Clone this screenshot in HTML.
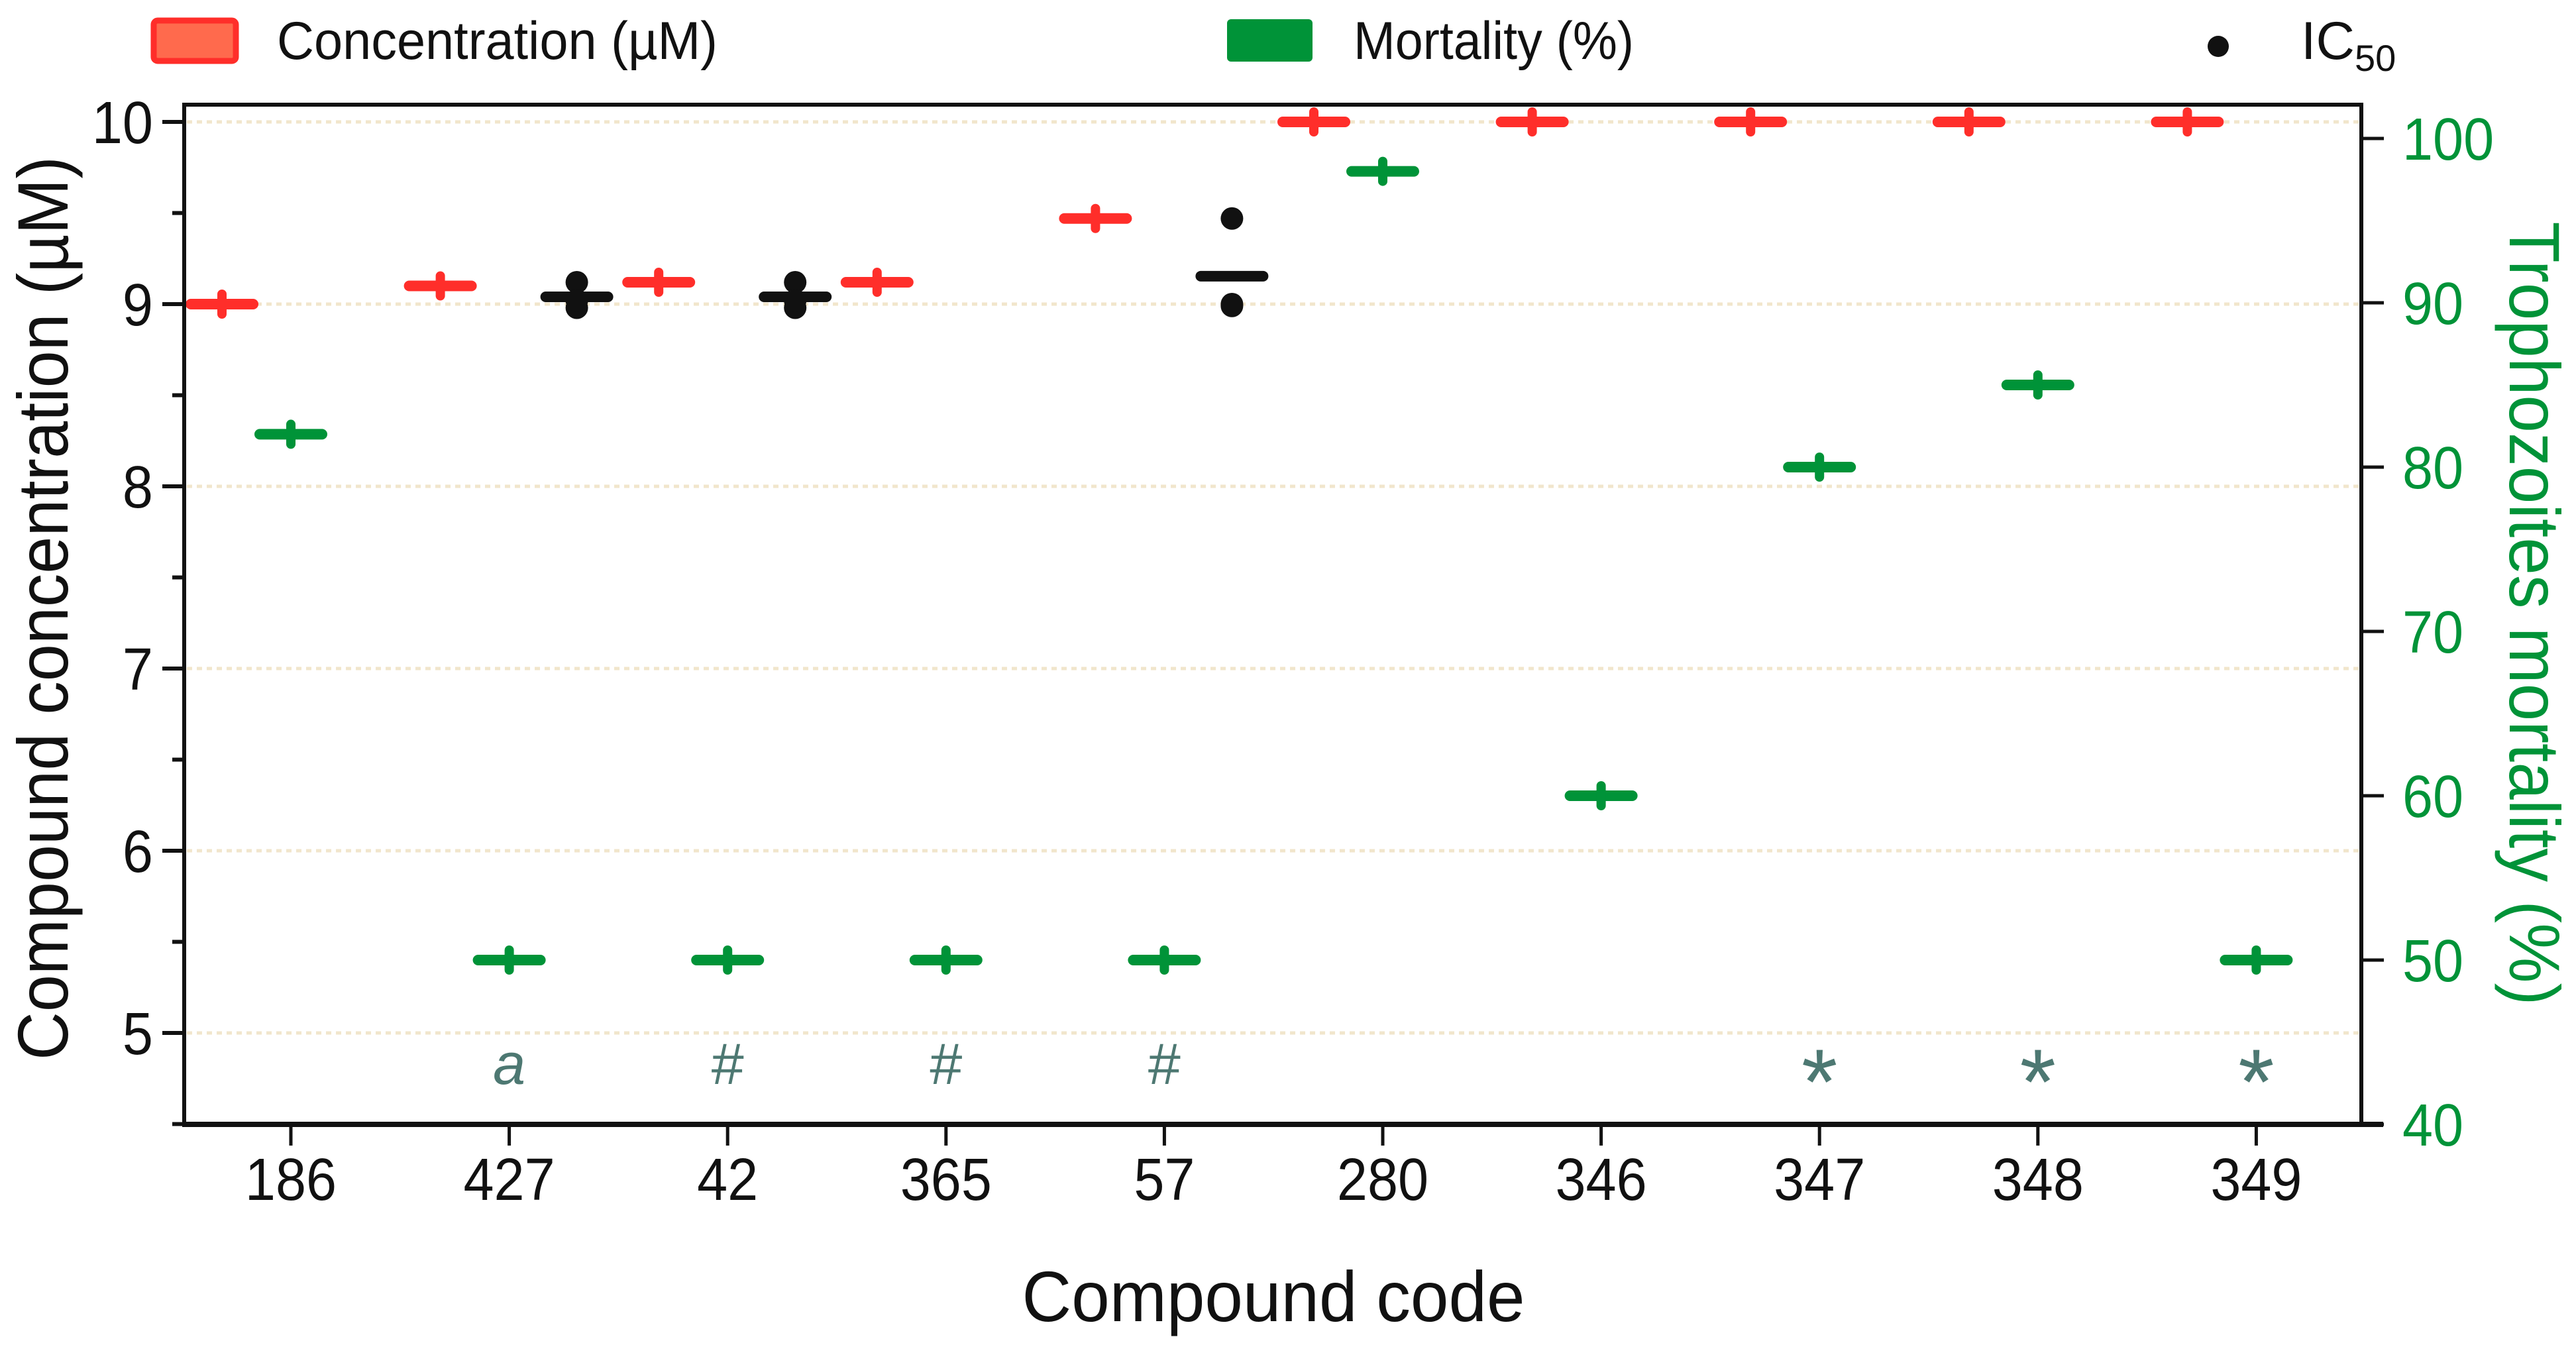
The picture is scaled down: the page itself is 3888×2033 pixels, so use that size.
<!DOCTYPE html>
<html><head><meta charset="utf-8"><style>
html,body{margin:0;padding:0;background:#fff;}
svg{display:block;}
text{font-family:"Liberation Sans",sans-serif;}
</style></head><body>
<svg id="chart" xmlns="http://www.w3.org/2000/svg" width="3888" height="2033" viewBox="0 0 3888 2033">
<rect x="0" y="0" width="3888" height="2033" fill="#fff"/>
<g id="grid"></g>
<g id="marks"></g>
<g id="axes"></g>
<g>
  <g>
    <rect x="232" y="31" width="124" height="61" rx="6" fill="#ff6a4d" stroke="#ff2e2a" stroke-width="9"/>
    <text x="418" y="89" font-size="81" textLength="665" lengthAdjust="spacingAndGlyphs" fill="#111">Concentration (µM)</text>
  </g>
  <g>
    <rect x="1852" y="29" width="129" height="64" rx="6" fill="#009338"/>
    <text x="2043" y="89" font-size="81" textLength="423" lengthAdjust="spacingAndGlyphs" fill="#111">Mortality (%)</text>
  </g>
  <g>
    <circle cx="3348" cy="70" r="16" fill="#111"/>
    <text x="3473" y="89" font-size="81" fill="#111">IC<tspan font-size="56" dy="18">50</tspan></text>
  </g>
</g>
<text transform="translate(102,918) rotate(-90)" text-anchor="middle" font-size="108" textLength="1364" lengthAdjust="spacingAndGlyphs" fill="#111">Compound concentration (µM)</text>
<text transform="translate(3788,926) rotate(90)" text-anchor="middle" font-size="108" textLength="1183" lengthAdjust="spacingAndGlyphs" fill="#009338">Trophozoites mortality (%)</text>
<text x="1922" y="1994" text-anchor="middle" font-size="108" textLength="759" lengthAdjust="spacingAndGlyphs" fill="#111">Compound code</text>
</svg>
<script>
const categories = ["186","427","42","365","57","280","346","347","348","349"];
const concentration = [9.0, 9.1, 9.12, 9.12, 9.47, 10, 10, 10, 10, 10];
const mortality = [82, 50, 50, 50, 50, 98, 60, 80, 85, 50];
const ic50Points = [[], [9.12, 8.98, 9.02], [9.12, 8.98, 9.02], [], [9.47, 9.0, 8.99], [], [], [], [], []];
const annotations = ["", "a", "#", "#", "#", "", "", "*", "*", "*"];
const leftTicks = [5, 6, 7, 8, 9, 10];
const leftMinor = [4.5, 5.5, 6.5, 7.5, 8.5, 9.5];
const rightTicks = [40, 50, 60, 70, 80, 90, 100];

const NS = "http://www.w3.org/2000/svg";
const L = 278, R = 3564, T = 158, B = 1697;
function yL(v){ return 184 + (10 - v) * 275; }
function yR(v){ return 1697 - (v - 40) * 24.8; }
function xC(i){ return 439 + i * 329.6; }
function mk(tag, attrs, parent){ const e = document.createElementNS(NS, tag); for (const k in attrs) e.setAttribute(k, attrs[k]); parent.appendChild(e); return e; }

const grid = document.getElementById('grid');
const marks = document.getElementById('marks');
const axes = document.getElementById('axes');

leftTicks.forEach(v => {
  const g = mk('line', {x1:L+4, x2:R-4, y1:yL(v), y2:yL(v), stroke:'#f1e6cc', 'stroke-width':5, 'stroke-dasharray':'8 7'}, grid);
  
  
});

function bar(cx, cy, color, name){
  const g = mk('g', {}, marks);
  
  
  mk('line', {x1:cx-47, x2:cx+47, y1:cy, y2:cy, stroke:color, 'stroke-width':16, 'stroke-linecap':'round'}, g);
  mk('line', {x1:cx, x2:cx, y1:cy-15, y2:cy+15, stroke:color, 'stroke-width':14, 'stroke-linecap':'round'}, g);
}

categories.forEach((c, i) => {
  const x = xC(i);
  bar(x - 104, yL(concentration[i]), '#ff2e2a', 'concentration-mark-' + c);
  bar(x, yR(mortality[i]), '#009338', 'mortality-mark-' + c);
  const pts = ic50Points[i];
  if (pts.length) {
    const g = mk('g', {}, marks);
    
    
    const mean = pts.reduce((a, b) => a + b, 0) / pts.length;
    pts.forEach(p => mk('circle', {cx:x + 102, cy:yL(p), r:17, fill:'#111'}, g));
    mk('line', {x1:x + 102 - 47, x2:x + 102 + 47, y1:yL(mean), y2:yL(mean), stroke:'#111', 'stroke-width':16, 'stroke-linecap':'round'}, g);
  }
  if (annotations[i]) {
    const a = annotations[i];
    const t = mk('text', {x:x, y: a === '*' ? 1681 : 1636, 'text-anchor':'middle', fill:'#4d7872',
      'font-size': a === '*' ? 140 : 88,
      'font-family': '"Liberation Serif",serif',
      'font-style': a === 'a' ? 'italic' : 'normal'}, marks);
    t.textContent = a;
    
    
  }
});

const frame = mk('path', {d:`M${L},${B} L${L},${T} L${R},${T} L${R},${B}`, fill:'none', stroke:'#111', 'stroke-width':6}, axes);


const xaxis = mk('line', {x1:L-3, x2:3597, y1:B, y2:B, stroke:'#111', 'stroke-width':8}, axes);



categories.forEach((c, i) => {
  const x = xC(i);
  mk('line', {x1:x, x2:x, y1:B, y2:B + 32, stroke:'#111', 'stroke-width':5}, axes);
  const t = mk('text', {x:x, y:1811, 'text-anchor':'middle', 'font-size':90, fill:'#111', transform:`translate(${x},0) scale(0.92,1) translate(${-x},0)`}, axes);
  t.textContent = c;
  
  
});
leftTicks.forEach(v => {
  mk('line', {x1:L - 33, x2:L, y1:yL(v), y2:yL(v), stroke:'#111', 'stroke-width':6}, axes);
  const t = mk('text', {x:231, y:yL(v) + 32, 'text-anchor':'end', 'font-size':90, fill:'#111', transform:`translate(231,0) scale(0.92,1) translate(-231,0)`}, axes);
  t.textContent = v;
  
  
});
leftMinor.forEach(v => {
  mk('line', {x1:L - 18, x2:L, y1:yL(v), y2:yL(v), stroke:'#111', 'stroke-width':6}, axes);
});
rightTicks.forEach(v => {
  mk('line', {x1:R, x2:R + 34, y1:yR(v), y2:yR(v), stroke:'#111', 'stroke-width':5}, axes);
  const t = mk('text', {x:3626, y:yR(v) + 32, 'font-size':90, fill:'#009338', transform:`translate(3626,0) scale(0.92,1) translate(-3626,0)`}, axes);
  t.textContent = v;
  
  
});
</script>
</body></html>
